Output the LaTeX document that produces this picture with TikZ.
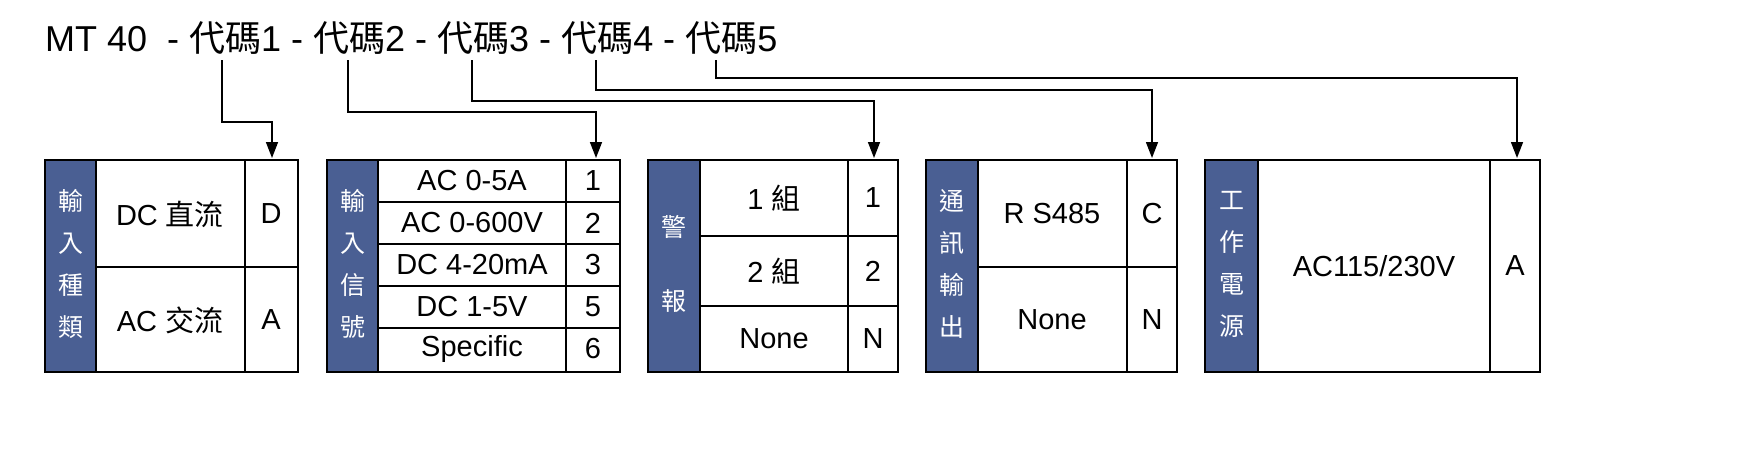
\documentclass[tikz,border=0pt]{standalone}
\usepackage{fontspec}
\setmainfont{Liberation Sans}
\newfontfamily\cjk{Noto Sans CJK TC}
\usetikzlibrary{arrows.meta}
\definecolor{bl}{HTML}{4A5F93}
\begin{document}
\begin{tikzpicture}[x=1pt,y=-1pt,
  frame/.style={draw=black,line width=1.3pt},
  blue/.style={fill=bl,draw=black,line width=1.3pt},
  vt/.style={text=white,font=\cjk\fontsize{25}{42}\selectfont,align=center},
  tx/.style={font=\fontsize{29}{32}\selectfont},
  conn/.style={draw=black,line width=1.5pt,-{Triangle[length=16pt,width=12pt]}}]
\useasboundingbox (0,0) rectangle (1758,466);
% title
\node[anchor=west,inner sep=0,font=\fontsize{36}{40}\selectfont] (title) at (45,38)
 {MT 40~ - {\cjk 代碼}1 - {\cjk 代碼}2 - {\cjk 代碼}3 - {\cjk 代碼}4 - {\cjk 代碼}5};
\coordinate (s1) at (222,60); \coordinate (s2) at (348,60); \coordinate (s3) at (472,60);
\coordinate (s4) at (596,60); \coordinate (s5) at (716,60);
\coordinate (t1) at (272,158); \coordinate (t2) at (596,158); \coordinate (t3) at (874,158);
\coordinate (t4) at (1152,158); \coordinate (t5) at (1517,158);
\draw[conn] (s1) |- (272,122) -- (t1);
\draw[conn] (s2) |- (596,112) -- (t2);
\draw[conn] (s3) |- (874,101) -- (t3);
\draw[conn] (s4) |- (1152,90) -- (t4);
\draw[conn] (s5) |- (1517,78) -- (t5);
% box1
\draw[frame] (45,160) rectangle (298,372);
\draw[blue] (45,160) rectangle (96,372);
\draw[frame] (245,160) -- (245,372) (96,267) -- (298,267);
\node[vt] (b1) at (70.5,264) {輸\\入\\種\\類};
\node[tx] (b1a) at (170,214) {DC {\cjk 直流}};
\node[tx] (b1b) at (170,320) {AC {\cjk 交流}};
\node[tx] (b1c) at (271,214) {D};
\node[tx] (b1d) at (271,320) {A};
% box2
\draw[frame] (327,160) rectangle (620,372);
\draw[blue] (327,160) rectangle (378,372);
\draw[frame] (566,160) -- (566,372);
\foreach \y in {202,244,286,328} \draw[frame] (378,\y) -- (620,\y);
\node[vt] (b2) at (352.5,264) {輸\\入\\信\\號};
\foreach \t/\c/\y [count=\i] in {AC 0-5A/1/181,AC 0-600V/2/223,DC 4-20mA/3/265,DC 1-5V/5/307,Specific/6/349}{
  \node[tx] (b2l\i) at (472,\y) {\t};
  \node[tx] (b2c\i) at (593,\y) {\c};}
% box3
\draw[frame] (648,160) rectangle (898,372);
\draw[blue] (648,160) rectangle (700,372);
\draw[frame] (848,160) -- (848,372) (700,236) -- (898,236) (700,306) -- (898,306);
\node[vt,font=\cjk\fontsize{25}{74}\selectfont] (b3) at (674,264) {警\\報};
\node[tx] (b3a) at (774,198) {1 {\cjk 組}};
\node[tx] (b3b) at (774,271) {2 {\cjk 組}};
\node[tx] (b3c) at (774,339) {None};
\node[tx] (b3d) at (873,198) {1};
\node[tx] (b3e) at (873,271) {2};
\node[tx] (b3f) at (873,339) {N};
% box4
\draw[frame] (926,160) rectangle (1177,372);
\draw[blue] (926,160) rectangle (978,372);
\draw[frame] (1127,160) -- (1127,372) (978,267) -- (1177,267);
\node[vt] (b4) at (952,264) {通\\訊\\輸\\出};
\node[tx] (b4a) at (1052,214) {R S485};
\node[tx] (b4b) at (1052,320) {None};
\node[tx] (b4c) at (1152,214) {C};
\node[tx] (b4d) at (1152,320) {N};
% box5
\draw[frame] (1205,160) rectangle (1540,372);
\draw[blue] (1205,160) rectangle (1258,372);
\draw[frame] (1490,160) -- (1490,372);
\node[vt] (b5) at (1231.5,264) {工\\作\\電\\源};
\node[tx] (b5a) at (1374,266) {AC115/230V};
\node[tx] (b5b) at (1515,266) {A};
\end{tikzpicture}
\end{document}
